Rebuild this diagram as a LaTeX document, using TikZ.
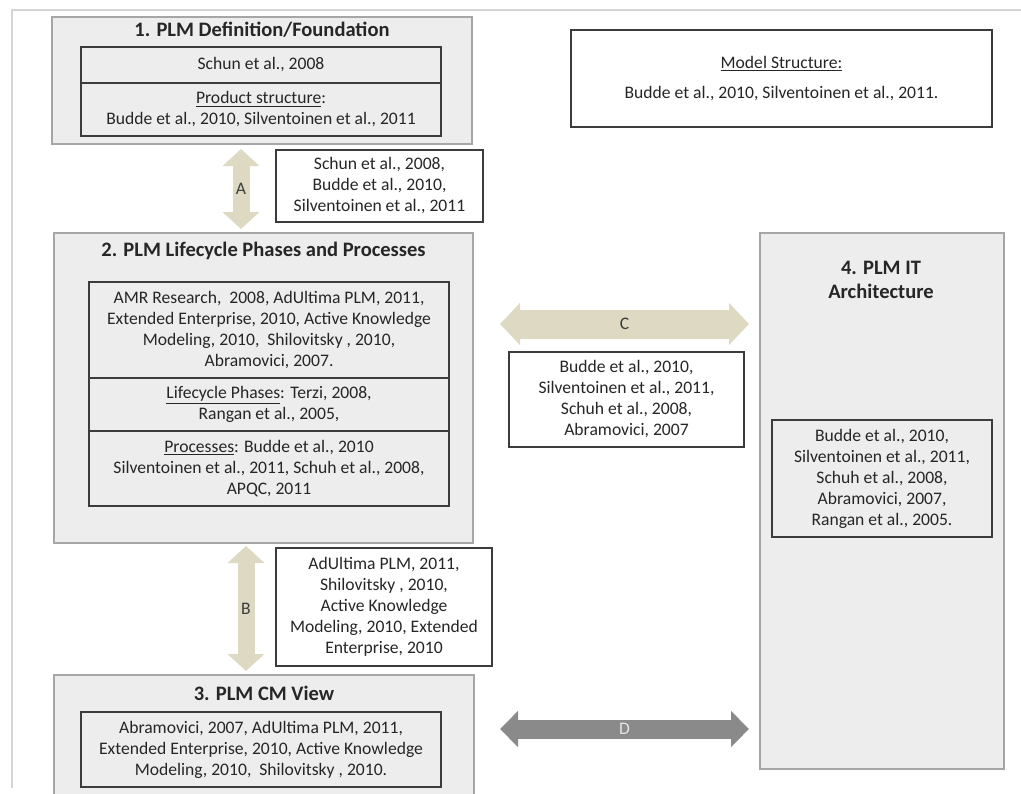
\documentclass[tikz,border=0pt]{standalone}
\usepackage{fontspec}
\setmainfont{Carlito}
\usetikzlibrary{arrows.meta,calc}
\definecolor{boxgray}{HTML}{EDEDED}
\definecolor{edgegray}{HTML}{A6A6A6}
\definecolor{inkgray}{HTML}{3C3C3C}
\definecolor{sandtan}{HTML}{DDD9C3}
\definecolor{darkarrow}{HTML}{8A8A8A}
\definecolor{pageline}{HTML}{D4D4D4}
\begin{document}
\begin{tikzpicture}[x=0.75pt, y=-0.75pt,
    font=\fontsize{13.2}{15.75}\selectfont, text=black!85,
    section/.style={draw=edgegray, line width=1.5pt, fill=boxgray, inner sep=0pt},
    cell/.style={draw=inkgray, line width=1.1pt, align=center, inner sep=0pt, minimum width=270pt},
    refbox/.style={cell, fill=white},
    heading/.style={font=\fontsize{15.4}{18}\selectfont\bfseries, align=center},
    arrowtext/.style={inner sep=0pt, text=inkgray},
    tanarrow/.style={draw=sandtan, line width=12.75pt,
        {Triangle[width=27pt,length=12.75pt]}-{Triangle[width=27pt,length=12.75pt]}},
    widetan/.style={draw=sandtan, line width=21.75pt,
        {Triangle[width=30.75pt,length=15pt]}-{Triangle[width=30.75pt,length=15pt]}},
    grayarrow/.style={draw=darkarrow, line width=14.25pt,
        {Triangle[width=26.25pt,length=13.5pt]}-{Triangle[width=26.25pt,length=13.5pt]}}]
    \useasboundingbox (0,0) rectangle (1021,793);
    \draw[pageline, line width=1pt] (1021,10) -- (12,10) -- (12,788);

    % 1. definition / foundation
    \node[section, minimum width=315pt, minimum height=95.25pt] (sec1) at (262,80.5) {};
    \node[heading] (sec1title) at (262,30) {1. PLM Definition/Foundation};
    \node[cell, minimum height=27pt] (sec1a) at (261,65) {Schun et al., 2008};
    \node[cell, minimum height=39.75pt] (sec1b) at (261,109.5)
        {\underline{Product structure}:\\Budde et al., 2010, Silventoinen et al., 2011};
    \node[refbox, minimum width=155.25pt, minimum height=54pt] (refA) at (379.5,186)
        {Schun et al., 2008,\\Budde et al., 2010,\\Silventoinen et al., 2011};
    \node[refbox, minimum width=315.75pt, minimum height=72.75pt] (model) at (781.5,78.5)
        {\underline{Model Structure:}\\[6.75pt]Budde et al., 2010, Silventoinen et al., 2011.};

    % 2. lifecycle phases and processes
    \node[section, minimum width=314.25pt, minimum height=232.5pt] (sec2) at (263.5,388) {};
    \node[heading] (sec2title) at (263.5,251) {2. PLM Lifecycle Phases and Processes};
    \node[cell, minimum height=72pt] (sec2a) at (269,330)
        {AMR Research,~~2008, AdUltima PLM, 2011,\\Extended Enterprise, 2010, Active Knowledge\\
         Modeling, 2010,~~Shilovitsky , 2010,\\Abramovici, 2007.};
    \node[cell, minimum height=39.75pt] (sec2b) at (269,404.5)
        {\underline{Lifecycle Phases}: Terzi, 2008,\\Rangan et al., 2005,};
    \node[cell, minimum height=56.25pt] (sec2c) at (269,468.5)
        {\underline{Processes}: Budde et al., 2010\\Silventoinen et al., 2011, Schuh et al., 2008,\\APQC, 2011};
    \node[refbox, minimum width=176.25pt, minimum height=71.25pt] (refC) at (626.5,399.5)
        {Budde et al., 2010,\\Silventoinen et al., 2011,\\Schuh et al., 2008,\\Abramovici, 2007};

    % 4. IT architecture
    \node[section, minimum width=183pt, minimum height=402pt] (sec4) at (882,501) {};
    \node[heading] (sec4title) at (881,280) {4. PLM IT\\Architecture};
    \node[cell, minimum width=165pt, minimum height=87.75pt] (sec4a) at (882,478.5)
        {Budde et al., 2010,\\Silventoinen et al., 2011,\\Schuh et al., 2008,\\Abramovici, 2007,\\Rangan et al., 2005.};

    % 3. CM view
    \node[refbox, minimum width=162pt, minimum height=88.5pt] (refB) at (384,607)
        {AdUltima PLM, 2011,\\Shilovitsky , 2010,\\Active Knowledge\\Modeling, 2010, Extended\\Enterprise, 2010};
    \node[section, minimum width=315pt, minimum height=97.5pt] (sec3) at (264,740) {};
    \node[heading] (sec3title) at (264,693) {3. PLM CM View};
    \node[cell, minimum height=56.25pt] (sec3a) at (261,749.5)
        {Abramovici, 2007, AdUltima PLM, 2011,\\Extended Enterprise, 2010, Active Knowledge\\
         Modeling, 2010,~~Shilovitsky , 2010.};

    % links
    \coordinate (cmid) at (0,324);
    \coordinate (dmid) at (0,729);
    \draw[tanarrow] ($(sec1.south)+(-21,4)$) -- node[arrowtext] {A} ($(sec2.north)+(-22.5,-3)$);
    \draw[tanarrow] ($(sec2.south)+(-17.5,2)$) -- node[arrowtext] {B} ($(sec3.north)+(-18,-3)$);
    \draw[widetan] ($(sec2.east |- cmid)+(26,0)$) -- node[arrowtext] {C} ($(sec4.west |- cmid)+(-10,0)$);
    \draw[grayarrow] ($(sec3.east |- dmid)+(25,0)$) -- node[arrowtext, text=gray!20] {D} ($(sec4.west |- dmid)+(-10,0)$);
\end{tikzpicture}
\end{document}
